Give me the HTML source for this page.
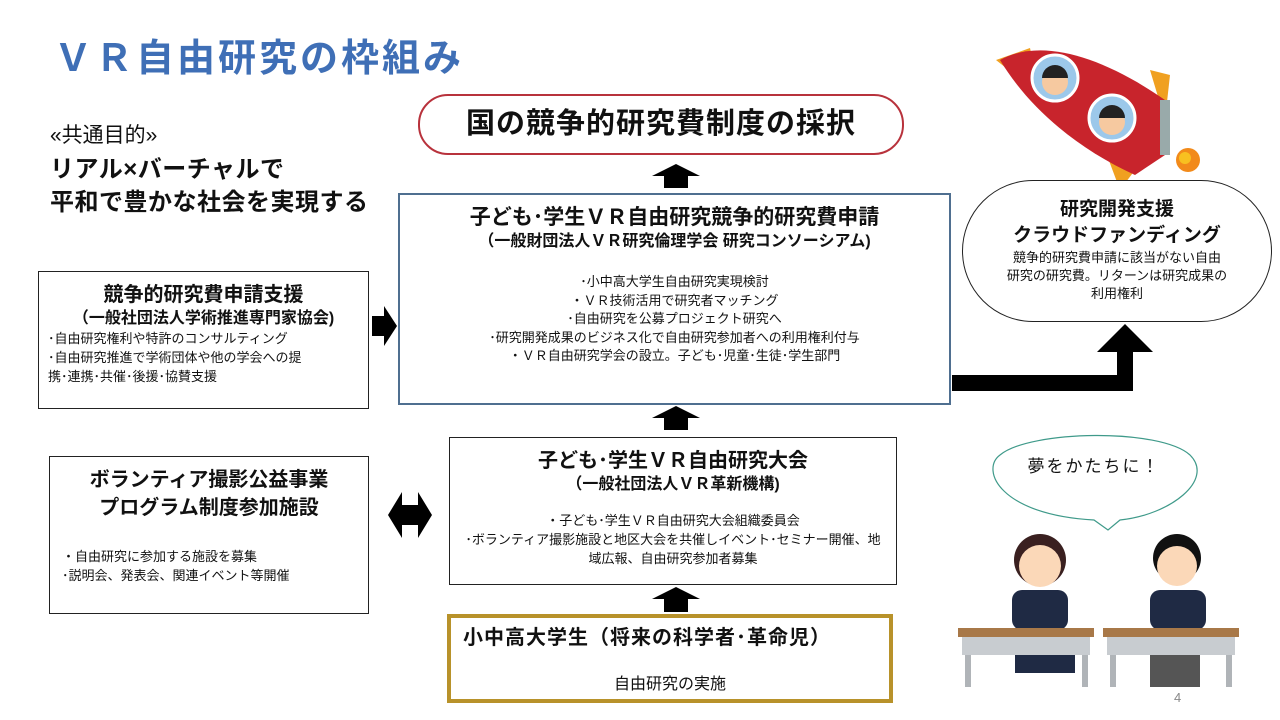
<!DOCTYPE html>
<html><head><meta charset="utf-8">
<style>
*{margin:0;padding:0;box-sizing:border-box}
body{width:1280px;height:720px;background:#fff;position:relative;overflow:hidden;font-family:"Liberation Sans","Noto Sans CJK JP",sans-serif;color:#111}
.a{position:absolute}
.box{position:absolute;background:#fff;text-align:center}
.b{font-weight:bold}
</style></head><body>

<div class="a b" style="left:54px;top:34px;font-size:38px;color:#3f6fb6;letter-spacing:3px;line-height:50px">ＶＲ自由研究の枠組み</div>

<div class="a" style="left:50px;top:122px;font-size:21px;line-height:28px">«共通目的»</div>
<div class="a b" style="left:50px;top:153px;font-size:24px;line-height:33px;letter-spacing:0.5px">リアル×バーチャルで<br>平和で豊かな社会を実現する</div>

<div class="box b" style="left:418px;top:94px;width:486px;height:61px;border:2px solid #b8323c;border-radius:30px;font-size:29px;line-height:56px;letter-spacing:1px">国の競争的研究費制度の採択</div>

<svg class="a" style="left:0;top:0" width="1280" height="720">
 <polygon points="676,164 700,176 688,176 688,188 664,188 664,176 652,176" fill="#000"/>
 <polygon points="676,406 700,418 688,418 688,430 664,430 664,418 652,418" fill="#000"/>
 <polygon points="676,587 700,599 688,599 688,612 664,612 664,599 652,599" fill="#000"/>
 <polygon points="372,316 384,316 384,306 397,326 384,346 384,336 372,336" fill="#000"/>
 <polygon points="388,515 402,492 402,505 418,505 418,492 432,515 418,538 418,525 402,525 402,538" fill="#000"/>
 <polygon points="952,375 1117,375 1117,352 1097,352 1125,324 1153,352 1133,352 1133,391 952,391" fill="#000"/>
 <path d="M1094,520 C1000,515 980,470 1000,455 C1030,430 1160,428 1190,455 C1215,480 1170,515 1120,520 L1108,530 Z" fill="#fff" stroke="#3f9a8a" stroke-width="1.2"/>
 <g>
  <polygon points="996,60 1030,48 1040,95" fill="#f0a020"/>
  <polygon points="1105,150 1120,190 1150,150" fill="#f0a020"/>
  <polygon points="1150,70 1170,75 1165,120" fill="#f0a020"/>
  <path d="M1000,60 C1040,38 1100,55 1165,100 L1165,155 L1135,175 C1080,150 1030,110 1000,60 Z" fill="#c8242c"/>
  <rect x="1160" y="100" width="10" height="55" fill="#9aa"/>
  <circle cx="1055" cy="78" r="23" fill="#9cc8ea" stroke="#fff" stroke-width="3"/>
  <circle cx="1055" cy="82" r="13" fill="#f6c9a0"/>
  <path d="M1042,78 a13,13 0 0 1 26,0 z" fill="#222"/>
  <circle cx="1112" cy="118" r="23" fill="#9cc8ea" stroke="#fff" stroke-width="3"/>
  <circle cx="1112" cy="122" r="13" fill="#f6c9a0"/>
  <path d="M1099,118 a13,13 0 0 1 26,0 z" fill="#222"/>
  <circle cx="1188" cy="160" r="12" fill="#f28a1a"/>
  <circle cx="1185" cy="158" r="6" fill="#f8c020"/>
 </g>
 <g>
  <circle cx="1040" cy="560" r="26" fill="#3a2020"/>
  <circle cx="1040" cy="566" r="21" fill="#fbd8b8"/>
  <rect x="1012" y="590" width="56" height="40" rx="10" fill="#1f2a44"/>
  <rect x="1015" y="633" width="60" height="40" fill="#1f2a44"/>
  <rect x="958" y="628" width="136" height="9" fill="#a87848"/>
  <rect x="962" y="637" width="128" height="18" fill="#c8ccd0"/>
  <rect x="965" y="655" width="6" height="32" fill="#b0b4b8"/><rect x="1082" y="655" width="6" height="32" fill="#b0b4b8"/>
  <circle cx="1177" cy="558" r="24" fill="#111"/>
  <circle cx="1177" cy="566" r="20" fill="#fbd8b8"/>
  <rect x="1150" y="590" width="56" height="40" rx="10" fill="#1f2a44"/>
  <rect x="1150" y="650" width="50" height="37" fill="#555"/>
  <rect x="1103" y="628" width="136" height="9" fill="#a87848"/>
  <rect x="1107" y="637" width="128" height="18" fill="#c8ccd0"/>
  <rect x="1110" y="655" width="6" height="32" fill="#b0b4b8"/><rect x="1226" y="655" width="6" height="32" fill="#b0b4b8"/>
 </g>
</svg>

<div class="a" style="left:988px;top:455px;width:212px;text-align:center;font-size:17px;line-height:24px;letter-spacing:2px">夢をかたちに！</div>

<div class="box" style="left:398px;top:193px;width:553px;height:212px;border:2px solid #4f6f90">
 <div class="b" style="margin-top:10px;font-size:21px;line-height:26px">子ども･学生ＶＲ自由研究競争的研究費申請</div>
 <div class="b" style="font-size:16px;line-height:22px">（一般財団法人ＶＲ研究倫理学会 研究コンソーシアム)</div>
 <div style="margin-top:20px;font-size:13px;line-height:18.5px">･小中高大学生自由研究実現検討<br>・ＶＲ技術活用で研究者マッチング<br>･自由研究を公募プロジェクト研究へ<br>･研究開発成果のビジネス化で自由研究参加者への利用権利付与<br>・ＶＲ自由研究学会の設立。子ども･児童･生徒･学生部門</div>
</div>

<div class="box" style="left:38px;top:271px;width:331px;height:138px;border:1.5px solid #222">
 <div class="b" style="margin-top:10px;font-size:20px;line-height:26px">競争的研究費申請支援</div>
 <div class="b" style="font-size:16px;line-height:21px">（一般社団法人学術推進専門家協会)</div>
 <div style="text-align:left;padding-left:9px;font-size:13px;line-height:19px">･自由研究権利や特許のコンサルティング<br>･自由研究推進で学術団体や他の学会への提<br>携･連携･共催･後援･協賛支援</div>
</div>

<div class="box" style="left:49px;top:456px;width:320px;height:158px;border:1.5px solid #222">
 <div class="b" style="margin-top:9px;font-size:20px;line-height:28px">ボランティア撮影公益事業<br>プログラム制度参加施設</div>
 <div style="text-align:left;padding-left:12px;margin-top:25px;font-size:13px;line-height:19px">・自由研究に参加する施設を募集<br>･説明会、発表会、関連イベント等開催</div>
</div>

<div class="box" style="left:449px;top:437px;width:448px;height:148px;border:1.5px solid #222">
 <div class="b" style="margin-top:10px;font-size:20px;line-height:26px">子ども･学生ＶＲ自由研究大会</div>
 <div class="b" style="font-size:16px;line-height:21px">（一般社団法人ＶＲ革新機構)</div>
 <div style="margin-top:16px;font-size:13px;line-height:19px">・子ども･学生ＶＲ自由研究大会組織委員会<br>･ボランティア撮影施設と地区大会を共催しイベント･セミナー開催、地<br>域広報、自由研究参加者募集</div>
</div>

<div class="box" style="left:447px;top:614px;width:446px;height:89px;border:4px solid #b8922a">
 <div class="b" style="text-align:left;padding-left:12px;margin-top:7px;font-size:20px;line-height:26px;letter-spacing:1px">小中高大学生（将来の科学者･革命児）</div>
 <div style="margin-top:24px;font-size:16px;line-height:20px">自由研究の実施</div>
</div>

<div class="box" style="left:962px;top:180px;width:310px;height:142px;border:1.2px solid #222;border-radius:71px/71px">
 <div class="b" style="margin-top:16px;font-size:19px;line-height:26px">研究開発支援<br>クラウドファンディング</div>
 <div style="font-size:13px;line-height:18px">競争的研究費申請に該当がない自由<br>研究の研究費。リターンは研究成果の<br>利用権利</div>
</div>

<div class="a" style="left:1174px;top:690px;font-size:13px;color:#888">4</div>
</body></html>
